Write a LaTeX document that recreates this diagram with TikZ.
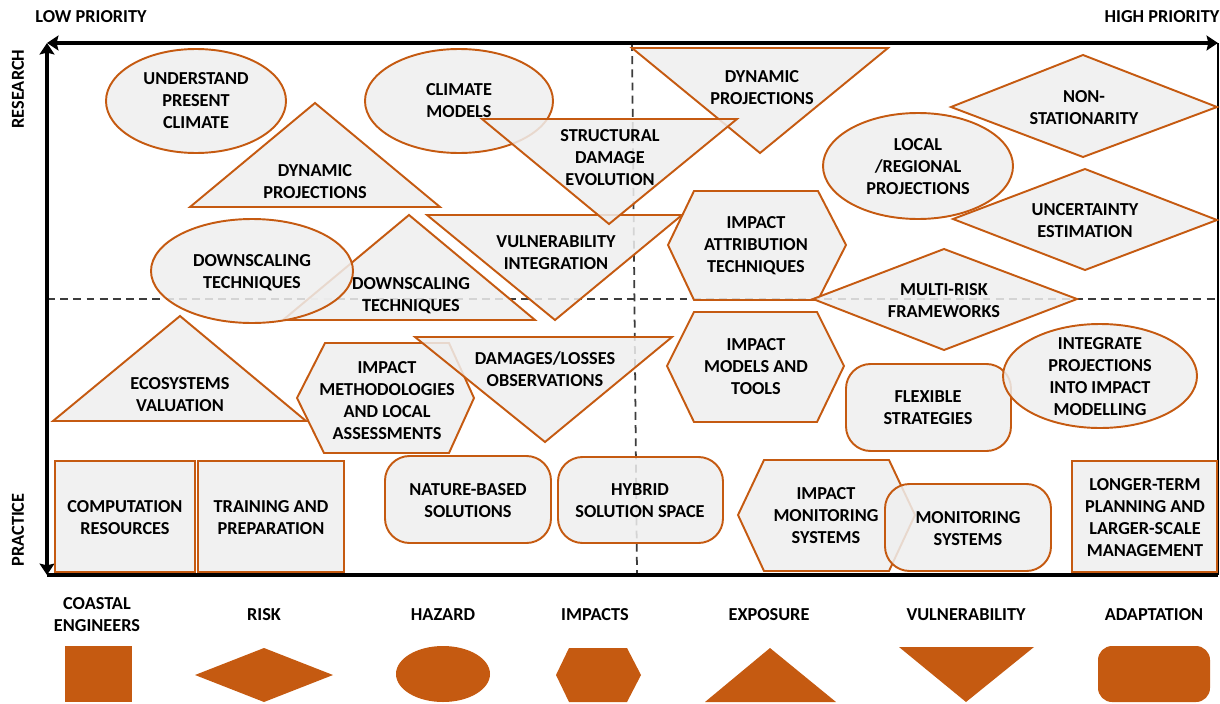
\documentclass[tikz,border=0pt]{standalone}
\usepackage{fontspec}
\setmainfont{Carlito}
\usepackage{xcolor}
\usetikzlibrary{arrows.meta}
\definecolor{rust}{RGB}{197,90,17}
\definecolor{shade}{RGB}{239,239,239}
\definecolor{guide}{RGB}{60,60,60}
\tikzset{
  item/.style={draw=rust,fill=shade,line width=1.1pt,fill opacity=0.85},
  key/.style={fill=rust,draw=none},
  lbl/.style={align=center,font=\fontsize{10.4}{12.5}\selectfont\bfseries,inner sep=0pt},
  guideline/.style={guide,line width=1pt,dash pattern=on 4.5pt off 3pt},
  axis/.style={line width=2.2pt,{Stealth[length=6.5pt,width=8.5pt,inset=1pt]}-{Stealth[length=6.5pt,width=8.5pt,inset=1pt]}}
}

\begin{document}
\begin{tikzpicture}[x=0.02cm,y=-0.02cm]
                \useasboundingbox (0,0) rectangle (1220,703);
                \coordinate (nw) at (47,43);
                \coordinate (ne) at (1218,43);
                \coordinate (sw) at (47,575);
                \coordinate (se) at (1218,575);
                \coordinate (midw) at (47,299);
                \coordinate (mide) at (1218,299);
                \coordinate (midn) at (632,43);
                \coordinate (mids) at (637,575);
                \draw[guideline] (midw) -- (mide);
                \draw[guideline] (midn) -- (mids);
                \draw[line width=0.8pt] (ne) -- (se);
                \draw[line width=2.2pt] (sw) -- (se);
                \draw[axis] (nw) -- (ne);
                \draw[axis] (nw) -- (sw);
                \node[lbl] (low) at (91,17) {LOW PRIORITY};
                \node[lbl] (high) at (1162,17) {HIGH PRIORITY};
                \node[lbl,rotate=90] (research) at (18,89) {RESEARCH};
                \node[lbl,rotate=90] (practice) at (18,530) {PRACTICE};

                % research half
                \draw[item] (196,101) ellipse [x radius=90,y radius=52];
                \node[lbl] (understand) at (196,101) {UNDERSTAND\\PRESENT\\CLIMATE};
                \draw[item] (459,101) ellipse [x radius=94,y radius=52];
                \node[lbl] (climmodels) at (459,101) {CLIMATE\\MODELS};
                \draw[item] (190,207) -- (315,103) -- (440,207) -- cycle;
                \node[lbl] (dynproja) at (315,182) {DYNAMIC\\PROJECTIONS};
                \draw[item] (632,48) -- (888,48) -- (760,153) -- cycle;
                \node[lbl] (dynprojb) at (762,88) {DYNAMIC\\PROJECTIONS};
                \draw[item] (427,215) -- (682,215) -- (555,320) -- cycle;
                \node[lbl] (vulnint) at (556,253) {VULNERABILITY\\INTEGRATION};
                \draw[item] (482,119) -- (737,119) -- (609,224) -- cycle;
                \node[lbl] (structdmg) at (610,158) {STRUCTURAL\\DAMAGE\\EVOLUTION};
                \draw[item] (283,320) -- (409,215) -- (535,320) -- cycle;
                \node[lbl] (downscb) at (411,296) {DOWNSCALING\\TECHNIQUES};
                \draw[item] (252,271) ellipse [x radius=101,y radius=52];
                \node[lbl] (downsca) at (252,273) {DOWNSCALING\\TECHNIQUES};
                \draw[item] (694,191) -- (818,191) -- (846,245) -- (818,300) -- (694,300) -- (668,245) -- cycle;
                \node[lbl] (attrib) at (756,246) {IMPACT\\ATTRIBUTION\\TECHNIQUES};
                \draw[item] (918,166) ellipse [x radius=95,y radius=53];
                \node[lbl] (localproj) at (918,167) {LOCAL\\/REGIONAL\\PROJECTIONS};
                \draw[item] (951,107) -- (1083,55) -- (1217,107) -- (1083,157) -- cycle;
                \node[lbl] (nonstat) at (1084,108) {NON-\\STATIONARITY};
                \draw[item] (953,219) -- (1085,169) -- (1217,220) -- (1085,270) -- cycle;
                \node[lbl] (uncert) at (1085,221) {UNCERTAINTY\\ESTIMATION};
                \draw[item] (813,299) -- (944,249) -- (1077,299) -- (944,350) -- cycle;
                \node[lbl] (multirisk) at (944,301) {MULTI-RISK\\FRAMEWORKS};

                % practice half
                \draw[item] (53,421) -- (180,316) -- (306,421) -- cycle;
                \node[lbl] (ecosys) at (180,395) {ECOSYSTEMS\\VALUATION};
                \draw[item] (325,343) -- (449,343) -- (474,398) -- (449,453) -- (324,453) -- (297,398) -- cycle;
                \node[lbl] (methods) at (387,401) {IMPACT\\METHODOLOGIES\\AND LOCAL\\ASSESSMENTS};
                \draw[item] (415,337) -- (672,337) -- (545,442) -- cycle;
                \node[lbl] (damages) at (545,369) {DAMAGES/LOSSES\\OBSERVATIONS};
                \draw[item] (694,312) -- (817,312) -- (844,366) -- (817,422) -- (694,422) -- (667,366) -- cycle;
                \node[lbl] (impmodels) at (756,367) {IMPACT\\MODELS AND\\TOOLS};
                \draw[item,rounded corners=14pt] (846,364) rectangle (1011,451);
                \node[lbl] (flexible) at (928,408) {FLEXIBLE\\STRATEGIES};
                \draw[item] (1100,376) ellipse [x radius=97,y radius=52];
                \node[lbl] (integrate) at (1100,377) {INTEGRATE\\PROJECTIONS\\INTO IMPACT\\MODELLING};
                \draw[item] (55,461) rectangle (195,572);
                \node[lbl] (compute) at (125,518) {COMPUTATION\\RESOURCES};
                \draw[item] (198,461) rectangle (344,572);
                \node[lbl] (training) at (271,518) {TRAINING AND\\PREPARATION};
                \draw[item,rounded corners=14pt] (385,456) rectangle (551,543);
                \node[lbl] (nature) at (468,501) {NATURE-BASED\\SOLUTIONS};
                \draw[item,rounded corners=14pt] (558,457) rectangle (723,543);
                \node[lbl] (hybrid) at (640,501) {HYBRID\\SOLUTION SPACE};
                \draw[item] (764,460) -- (889,460) -- (915,515) -- (889,571) -- (764,571) -- (738,515) -- cycle;
                \node[lbl] (impmonit) at (826,516) {IMPACT\\MONITORING\\SYSTEMS};
                \draw[item,rounded corners=14pt] (885,484) rectangle (1051,571);
                \node[lbl] (monit) at (968,529) {MONITORING\\SYSTEMS};
                \draw[item] (1072,461) rectangle (1217,572);
                \node[lbl] (longer) at (1145,518) {LONGER-TERM\\PLANNING AND\\LARGER-SCALE\\MANAGEMENT};

                % legend
                \node[lbl] (kcoast) at (97,615) {COASTAL\\ENGINEERS};
                \node[lbl] (krisk) at (264,615) {RISK};
                \node[lbl] (khazard) at (443,615) {HAZARD};
                \node[lbl] (kimpacts) at (595,615) {IMPACTS};
                \node[lbl] (kexpo) at (769,615) {EXPOSURE};
                \node[lbl] (kvuln) at (966,615) {VULNERABILITY};
                \node[lbl] (kadapt) at (1154,615) {ADAPTATION};
                \fill[key] (65,646) rectangle (132,702);
                \fill[key] (195,675) -- (264,648) -- (333,675) -- (264,702) -- cycle;
                \fill[key] (443,674) ellipse [x radius=47,y radius=28];
                \fill[key] (569,648) -- (627,648) -- (641,675) -- (627,702) -- (569,702) -- (556,675) -- cycle;
                \fill[key] (705,702) -- (770,648) -- (836,702) -- cycle;
                \fill[key] (899,647) -- (1034,647) -- (966,702) -- cycle;
                \fill[key,rounded corners=8pt] (1098,646) rectangle (1210,702);
            \end{tikzpicture}
\end{document}
